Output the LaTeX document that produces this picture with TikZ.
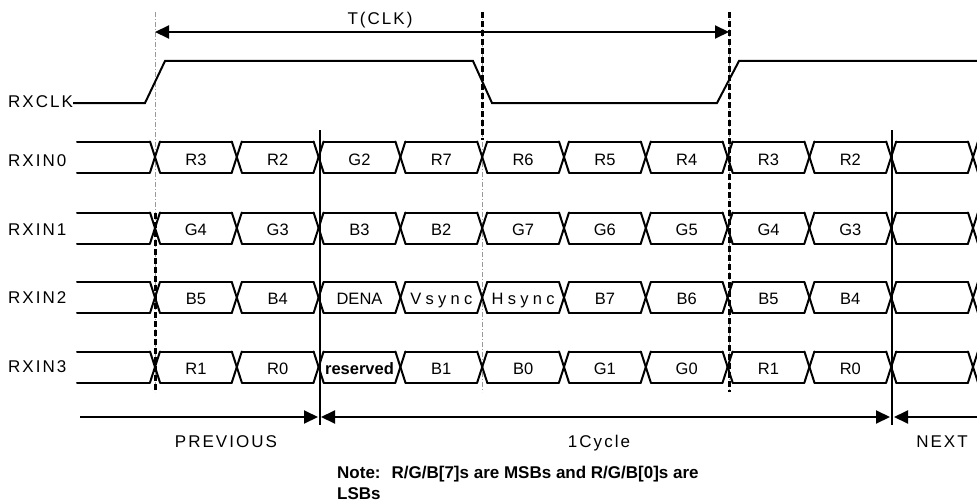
\documentclass[tikz,border=0pt]{standalone}
\usepackage{fontspec}
\setmainfont{Liberation Sans}
\newfontfamily\spc[LetterSpace=12]{Liberation Sans}
\newfontfamily\wide[LetterSpace=26]{Liberation Sans}
\usetikzlibrary{arrows.meta}
\tikzset{tri/.tip={Triangle[length=14pt,width=13pt]}}
\begin{document}
\begin{tikzpicture}[x=1pt,y=-1pt,
  sig/.style={line width=2pt, line cap=round},
  lab/.style={font=\fontsize{17}{19}\selectfont\spc, inner sep=0pt},
  celltxt/.style={font=\fontsize{16.5}{18}\selectfont, inner sep=0pt, anchor=base},
  refg/.style={draw=black!40, line width=0.8pt, dash pattern=on 5pt off 2pt on 1pt off 2pt},
  refk/.style={line width=3pt, dash pattern=on 6pt off 3pt},
]
\useasboundingbox (0,0) rectangle (977,503);

% reference lines (thin gray, full length)
\coordinate (g1t) at (155,12);  \coordinate (g1m) at (155,213); \coordinate (g1b) at (155,392);
\coordinate (g2t) at (482,12);  \coordinate (g2m) at (482,140); \coordinate (g2b) at (482,392);
\coordinate (g3t) at (729,12);  \coordinate (g3b) at (729,392);
\draw[refg] (g1t) -- (g1b);
\draw[refg] (g2t) -- (g2b);
\draw[refg] (g3t) -- (g3b);

% data rows
\begin{scope}
\clip (0,0) rectangle (977,503);
\foreach \yy in {157,228,297.5,367}{
  \pgfmathsetmacro\T{\yy-15.5}
  \pgfmathsetmacro\B{\yy+15.5}
  \draw[sig] (77,\T) -- (150,\T);
  \draw[sig] (77,\B) -- (150,\B);
  \foreach \k in {0,...,10}{
    \pgfmathsetmacro\c{155+81.8*\k}
    \pgfmathsetmacro\d{\c+81.8}
    \draw[sig] (\c-5,\T) -- (\c+5,\B);
    \draw[sig] (\c-5,\B) -- (\c+5,\T);
    \draw[sig] (\c+5,\T) -- (\d-5,\T);
    \draw[sig] (\c+5,\B) -- (\d-5,\B);
  }
}
\end{scope}

% thick dashed reference parts
\draw[refk] (g1m) -- (g1b);
\draw[refk] (g2t) -- (g2m);
\draw[refk] (g3t) -- (g3b);

% solid cycle boundaries
\coordinate (v1t) at (319.5,130); \coordinate (v1b) at (319.5,425);
\coordinate (v2t) at (892,130);   \coordinate (v2b) at (892,425);
\draw[sig, line cap=butt] (v1t) -- (v1b);
\draw[sig, line cap=butt] (v2t) -- (v2b);

% T(CLK)
\coordinate (aL) at (155,32); \coordinate (aR) at (729,32);
\draw[sig, line cap=butt, tri-tri] (aL) -- (aR);
\node[lab, anchor=base] (tclk) at (380,25) {T(CLK)};

% clock
\node[lab, anchor=base west] (rxclk) at (8,107) {RXCLK};
\draw[sig, line cap=butt] ([yshift=4pt]rxclk.base east) -- (145,103) -- (165,61) -- (473,61) -- (492,103) -- (717,103) -- (739,61) -- (980,61);

% row labels
\node[lab, anchor=base west] (rx0) at (8,166.5) {RXIN0};
\node[lab, anchor=base west] (rx1) at (8,235) {RXIN1};
\node[lab, anchor=base west] (rx2) at (8,303.5) {RXIN2};
\node[lab, anchor=base west] (rx3) at (8,372.5) {RXIN3};

% cell labels
\foreach \yy/\lst [count=\r] in {165.7/{R3,R2,G2,R7,R6,R5,R4,R3,R2},
  235/{G4,G3,B3,B2,G7,G6,G5,G4,G3},
  304.5/{B5,B4,DENA,{\wide Vsync},{\wide Hsync},B7,B6,B5,B4},
  374/{R1,R0,{\bfseries reserved},B1,B0,G1,G0,R1,R0}}{
  \foreach \n [count=\k from 0] in \lst {
    \node[celltxt] (c\r-\k) at ({155+81.8*\k+40.9},\yy) {\n};
  }
}

% bottom arrows
\coordinate (b0) at (80,417);  \coordinate (b1) at (318,417);
\coordinate (b2) at (321,417); \coordinate (b3) at (890,417);
\coordinate (b4) at (894,417); \coordinate (b5) at (980,417);
\draw[sig, line cap=butt, -tri] (b0) -- (b1);
\draw[sig, line cap=butt, tri-tri] (b2) -- (b3);
\draw[sig, line cap=butt, tri-] (b4) -- (b5);

\node[lab, anchor=base] (prev) at (226,447) {PREVIOUS};
\node[lab, anchor=base] (cyc) at (599,447) {1Cycle};
\node[lab, anchor=base] (next) at (942,447) {NEXT};

\node[font=\fontsize{17}{19}\selectfont\bfseries, inner sep=0pt, anchor=base west] (note1) at (337,478) {Note:~ R/G/B[7]s are MSBs and R/G/B[0]s are};
\node[font=\fontsize{17}{19}\selectfont\bfseries, inner sep=0pt, anchor=base west] (note2) at (337,499.5) {LSBs};
\end{tikzpicture}
\end{document}
